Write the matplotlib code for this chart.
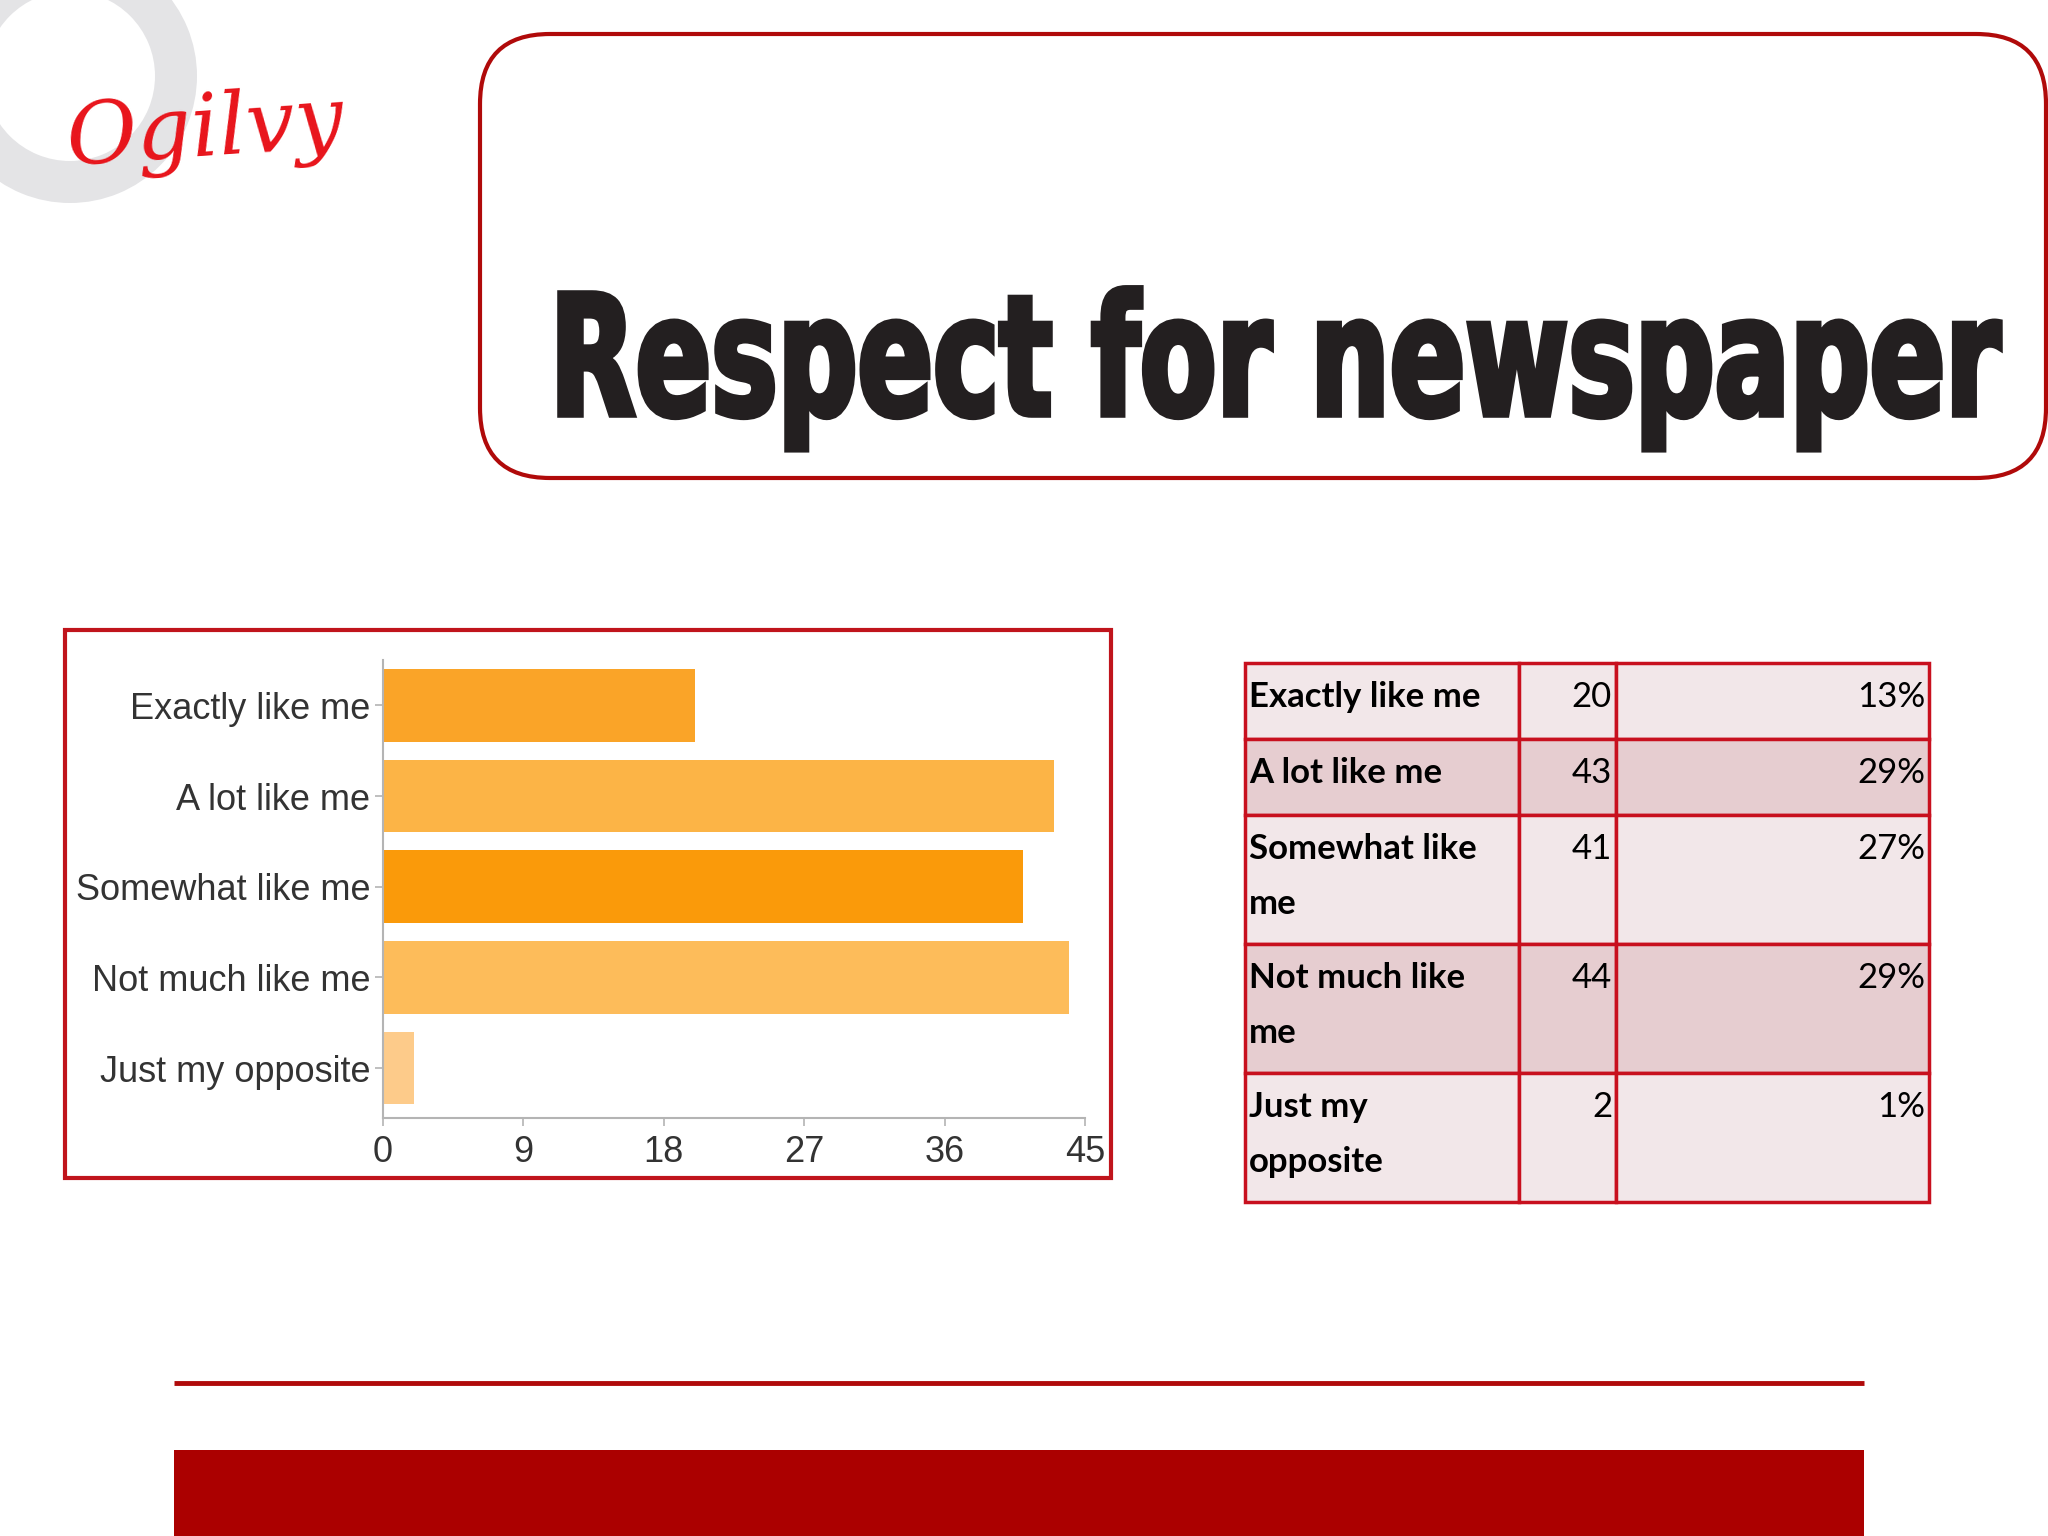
import matplotlib
matplotlib.use("Agg")
from matplotlib import pyplot as plt
from matplotlib.patches import Rectangle, FancyBboxPatch, Annulus, PathPatch
from matplotlib.textpath import TextPath
from matplotlib.font_manager import FontProperties
from matplotlib.transforms import Affine2D

#==============================================================================
# Data
#==============================================================================
categories = ["Exactly like me", "A lot like me", "Somewhat like me",
              "Not much like me", "Just my opposite"]
counts = [20, 43, 41, 44, 2]
percents = [13, 29, 27, 29, 1]
table_labels = ["Exactly like me", "A lot like me", "Somewhat like\nme",
                "Not much like\nme", "Just my\nopposite"]
x_ticks = [0, 9, 18, 27, 36, 45]
bar_colors = ["#faa428", "#fcb446", "#fa9a0a", "#fdbc5a", "#fdcb8a"]
row_colors = ["#f2e7e9", "#e6cdd0"]
title = "Respect for newspaper"

RED = "#b00a0a"

fig = plt.figure(figsize=(20.48, 15.36), dpi=100, facecolor="white")

# page axes in pixel coordinates (y downwards)
page = fig.add_axes([0, 0, 1, 1])
page.set_xlim(0, 2048)
page.set_ylim(1536, 0)
page.axis("off")

# ---- logo ----
page.add_patch(Annulus((70, 76), 127, 42, fc="#e4e4e6", ec="none"))
page.text(205, 132, "Ogilvy", fontsize=62, color="#e8141b", style="italic",
          family="DejaVu Serif", ha="center", va="center", rotation=4)

# ---- title box ----
page.add_patch(FancyBboxPatch((480, 34), 1566, 444,
                              boxstyle="round,pad=0,rounding_size=70",
                              fc="white", ec=RED, lw=3, clip_on=False))

fp = FontProperties(family=["Liberation Sans Narrow", "DejaVu Sans"], weight="bold")
tp = TextPath((0, 0), title, size=100, prop=fp)
cap = TextPath((0, 0), "R", size=100, prop=fp).get_extents()
ext = tp.get_extents()
sx = 1440 / ext.width
sy = 122 / cap.height
trans = Affine2D().translate(-ext.x0, 0).scale(sx, -sy).translate(560, 415) + page.transData
page.add_patch(PathPatch(tp, fc="#231f20", ec="#231f20", lw=4, transform=trans))

# ---- chart box ----
page.add_patch(Rectangle((65, 630), 1046, 548, fc="white", ec="#c0141c", lw=3))

ax = fig.add_axes([383 / 2048, 1 - 1118 / 1536, (1085 - 383) / 2048, (1118 - 660) / 1536])
ypos = list(range(len(categories)))
ax.barh(ypos, counts, height=0.8, color=bar_colors)
ax.set_xlim(0, 45)
ax.set_ylim(4.55, -0.5)
ax.set_xticks(x_ticks)
ax.set_yticks(ypos)
ax.set_yticklabels(categories)
for s in ["top", "right"]:
    ax.spines[s].set_visible(False)
for s in ["left", "bottom"]:
    ax.spines[s].set_color("#b4b4b4")
    ax.spines[s].set_linewidth(1.5)
ax.tick_params(axis="both", colors="#b4b4b4", labelcolor="#333333",
               labelsize=26, length=6, width=1.2)
ax.tick_params(axis="x", pad=6)
ax.tick_params(axis="y", pad=3)
for lab in ax.get_xticklabels() + ax.get_yticklabels():
    lab.set_family("Liberation Sans")
ax.patch.set_alpha(0)

# ---- table ----
tx0, tx1, tx2, tx3 = 1245, 1519, 1616, 1929
top = 663
tfont = ["Lato", "DejaVu Sans"]
for i, lab in enumerate(table_labels):
    nlines = lab.count("\n") + 1
    h = 76 if nlines == 1 else 129
    fc = row_colors[i % 2]
    for xa, xb in [(tx0, tx1), (tx1, tx2), (tx2, tx3)]:
        page.add_patch(Rectangle((xa, top), xb - xa, h, fc=fc, ec="#c8101e", lw=2.5))
    for j, line in enumerate(lab.split("\n")):
        page.text(tx0 + 4, top + 34 + j * 55, line, fontsize=25, weight="bold",
                  family=tfont, color="black", ha="left", va="center")
    page.text(tx2 - 4, top + 34, str(counts[i]), fontsize=25, family=tfont,
              color="black", ha="right", va="center")
    page.text(tx3 - 4, top + 34, "%d%%" % percents[i], fontsize=25, family=tfont,
              color="black", ha="right", va="center")
    top += h

# ---- footer ----
page.plot([174, 1864], [1383, 1383], color=RED, lw=3.5, solid_capstyle="butt")
page.add_patch(Rectangle((174, 1450), 1690, 90, fc="#ab0000", ec="none"))

fig.savefig("out.png", dpi=100, facecolor="white")
